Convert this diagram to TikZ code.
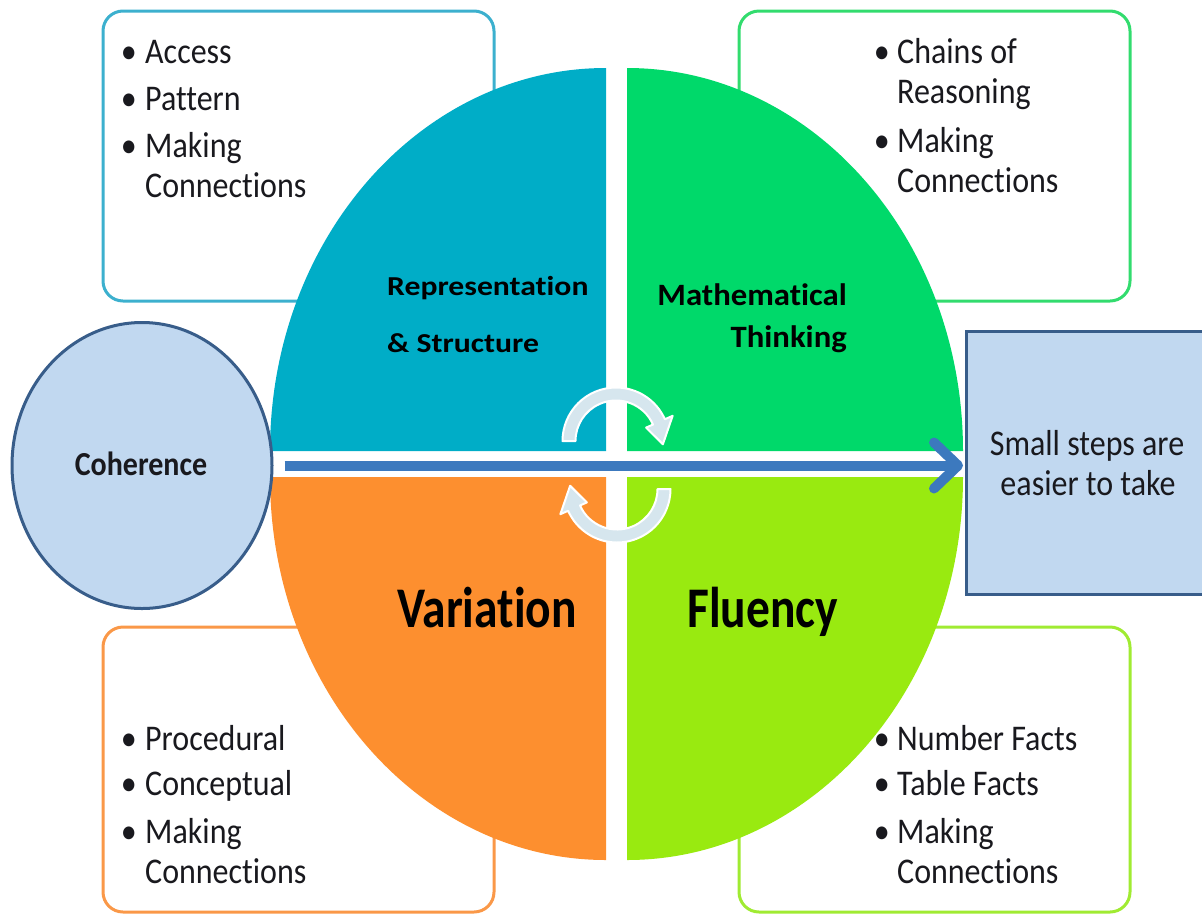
\documentclass[tikz,border=0pt]{standalone}
\usepackage{fontspec}
\setmainfont{Carlito}[Ligatures=NoCommon]
\usetikzlibrary{arrows.meta,shapes.geometric}
\definecolor{tealq}{RGB}{0,173,199}
\definecolor{greenq}{RGB}{0,217,106}
\definecolor{orangeq}{RGB}{253,143,47}
\definecolor{limeq}{RGB}{153,234,16}
\definecolor{tlc}{RGB}{60,176,206}
\definecolor{trc}{RGB}{50,220,110}
\definecolor{blc}{RGB}{250,152,72}
\definecolor{brc}{RGB}{160,235,50}
\definecolor{cohfill}{RGB}{193,216,240}
\definecolor{cohline}{RGB}{56,93,138}
\definecolor{flowc}{RGB}{60,121,190}
\definecolor{cyc}{RGB}{214,230,238}
\definecolor{ink}{RGB}{25,25,30}
\newcommand{\vs}[1]{\scalebox{1}[1.13]{#1}}
\begin{document}
\begin{tikzpicture}[x=1pt,y=-1pt,
  lst/.style={inner sep=0pt, anchor=base west, text=ink, font=\fontsize{32}{38}\selectfont},
  bul/.style={inner sep=0pt, anchor=base east, text=ink, font=\fontsize{32}{38}\selectfont},
  lbl/.style={inner sep=0pt, text=black},
  rbox/.style={draw, rounded corners=20pt, line width=3pt, fill=white, inner sep=0pt},
  bluebox/.style={draw=cohline, fill=cohfill, line width=3pt, inner sep=0pt},
  arcarrow/.style={fill=cyc, draw=white, line width=2pt, line join=round},
  flow/.style={draw=flowc, line width=10pt, -{Straight Barb[length=24pt,width=46pt,line cap=round,line join=round]}}
  ]
\useasboundingbox (0,0) rectangle (1202,914);
\clip (0,0) rectangle (1202,914);
% outer boxes
\node[rbox, draw=tlc, minimum width=391pt, minimum height=290pt] (tlbox) at (298.5,156) {};
\node[rbox, draw=trc, minimum width=391pt, minimum height=290pt] (trbox) at (934.5,156) {};
\node[rbox, draw=blc, minimum width=391pt, minimum height=285pt] (blbox) at (298.5,769.5) {};
\node[rbox, draw=brc, minimum width=391pt, minimum height=285pt] (brbox) at (934.5,769.5) {};
% quadrants
\fill[tealq] (606,451) -- (270,451) arc[start angle=180, end angle=90, x radius=336pt, y radius=383pt] -- cycle;
\fill[greenq] (627,451) -- (627,68) arc[start angle=90, end angle=0, x radius=336pt, y radius=383pt] -- cycle;
\fill[orangeq] (606,477) -- (606,860) arc[start angle=270, end angle=180, x radius=336pt, y radius=383pt] -- cycle;
\fill[limeq] (627,477) -- (963,477) arc[start angle=0, end angle=-90, x radius=336pt, y radius=383pt] -- cycle;
% side shapes
\node[bluebox, ellipse, minimum width=260pt, minimum height=286pt] (coh) at (142,465.5) {};
\node[bluebox, rectangle, minimum width=250pt, minimum height=263pt, anchor=north west] (steps) at (965,330) {};
% main arrow
\draw[flow, shorten <=11pt, shorten >=2pt] (coh.east) -- (coh.east -| steps.west);
% cycle arrows
\coordinate (ca) at (616,441);
\coordinate (cb) at (617,489);
\filldraw[arcarrow] ([shift={(180:53.5pt)}]ca) arc[start angle=180, end angle=24, radius=53.5pt]
  -- ([shift={(24:62pt)}]ca) -- ([shift={(-4:47pt)}]ca) -- ([shift={(24:33pt)}]ca)
  -- ([shift={(24:40.5pt)}]ca) arc[start angle=24, end angle=180, radius=40.5pt] -- cycle;
\filldraw[arcarrow] ([shift={(0:53.5pt)}]cb) arc[start angle=0, end angle=-156, radius=53.5pt]
  -- ([shift={(-156:62pt)}]cb) -- ([shift={(176:47pt)}]cb) -- ([shift={(-156:33pt)}]cb)
  -- ([shift={(-156:40.5pt)}]cb) arc[start angle=-156, end angle=0, radius=40.5pt] -- cycle;
% quadrant labels
\node[lbl, anchor=base west] (rep1) at (387,295) {\scalebox{1.32}[1.14]{\fontsize{24}{28}\selectfont\bfseries Representation}};
\node[lbl, anchor=base west] (rep2) at (387,352) {\scalebox{1.32}[1.14]{\fontsize{24}{28}\selectfont\bfseries \& Structure}};
\node[lbl, anchor=base east] (mat1) at (847,305) {\scalebox{1.19}[1.13]{\fontsize{27.5}{32}\selectfont\bfseries Mathematical}};
\node[lbl, anchor=base east] (mat2) at (847,347) {\scalebox{1.19}[1.13]{\fontsize{27.5}{32}\selectfont\bfseries Thinking}};
\node[lbl, anchor=base west] (var) at (397,627) {\scalebox{0.95}[1.15]{\fontsize{50}{60}\selectfont\bfseries Variation}};
\node[lbl, anchor=base west] (flu) at (687,627) {\scalebox{0.95}[1.15]{\fontsize{50}{60}\selectfont\bfseries Fluency}};
\node[lbl, anchor=base, text=ink] (coht) at (141,475) {\scalebox{1}[1.12]{\fontsize{30}{36}\selectfont\bfseries Coherence}};
\node[lst, anchor=base] (st1) at (1087,455) {\vs{Small steps are}};
\node[lst, anchor=base] (st2) at (1088,495) {\vs{easier to take}};
% top-left list
\node[bul] (tlb1) at (137,63) {\vs{•}};
\node[bul] (tlb2) at (137,110) {\vs{•}};
\node[bul] (tlb3) at (137,157) {\vs{•}};
\node[lst] (tl1) at (145,63) {\vs{Access}};
\node[lst] (tl2) at (145,110) {\vs{Pattern}};
\node[lst] (tl3) at (145,157) {\vs{Making}};
\node[lst] (tl4) at (145,197) {\vs{Connections}};
% top-right list
\node[bul] (trb1) at (890,63) {\vs{•}};
\node[bul] (trb2) at (890,152) {\vs{•}};
\node[lst] (tr1) at (897,63) {\vs{Chains of}};
\node[lst] (tr2) at (897,103) {\vs{Reasoning}};
\node[lst] (tr3) at (897,152) {\vs{Making}};
\node[lst] (tr4) at (897,192) {\vs{Connections}};
% bottom-left list
\node[bul] (blb1) at (137,750) {\vs{•}};
\node[bul] (blb2) at (137,795) {\vs{•}};
\node[bul] (blb3) at (137,843) {\vs{•}};
\node[lst] (bl1) at (145,750) {\vs{Procedural}};
\node[lst] (bl2) at (145,795) {\vs{Conceptual}};
\node[lst] (bl3) at (145,843) {\vs{Making}};
\node[lst] (bl4) at (145,883) {\vs{Connections}};
% bottom-right list
\node[bul] (brb1) at (890,750) {\vs{•}};
\node[bul] (brb2) at (890,795) {\vs{•}};
\node[bul] (brb3) at (890,843) {\vs{•}};
\node[lst] (br1) at (897,750) {\vs{Number Facts}};
\node[lst] (br2) at (897,795) {\vs{Table Facts}};
\node[lst] (br3) at (897,843) {\vs{Making}};
\node[lst] (br4) at (897,883) {\vs{Connections}};
\end{tikzpicture}
\end{document}
